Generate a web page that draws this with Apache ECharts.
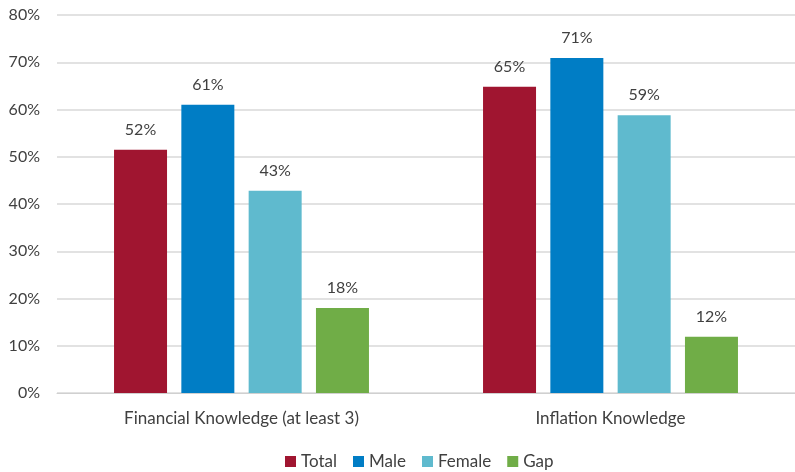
<!DOCTYPE html>
<html>
<head>
<meta charset="utf-8">
<script src="https://cdn.jsdelivr.net/npm/echarts@6/dist/echarts.min.js"></script>
<style>
  html, body { margin: 0; padding: 0; background: #fff; }
  #chart { width: 795px; height: 472px; }
</style>
</head>
<body>
<div id="chart"></div>
<script>
const categories = ['Financial Knowledge (at least 3)', 'Inflation Knowledge']
const seriesNames = ['Total', 'Male', 'Female', 'Gap']
const total = [51.5, 64.8]
const male = [61, 70.9]
const female = [42.8, 58.8]
const gap = [18, 11.9]
const colors = ['#A01530', '#007DC5', '#5FBACE', '#70AD47']

const values = [total, male, female, gap]
const font = 'Lato, sans-serif'

var myChart = echarts.init(document.getElementById('chart'))

var option = {
  animation: false,
  textStyle: { fontFamily: font },
  grid: { left: 57, right: -9, top: 15, bottom: 79 },
  legend: {
    bottom: -3,
    left: 280,
    icon: 'rect',
    itemWidth: 11,
    itemHeight: 11,
    itemGap: 16,
    textStyle: { fontSize: 17, color: '#404040', fontFamily: font },
    data: seriesNames
  },
  xAxis: {
    type: 'category',
    data: categories,
    axisLine: { lineStyle: { color: '#d0d0d0', width: 1 } },
    axisTick: { show: false },
    axisLabel: { fontSize: 17, color: '#404040', margin: 17 }
  },
  yAxis: {
    type: 'value',
    min: 0,
    max: 80,
    interval: 10,
    axisLine: { show: false },
    axisTick: { show: false },
    splitLine: { lineStyle: { color: '#d9d9d9', width: 1.5 } },
    axisLabel: {
      fontSize: 16,
      color: '#404040',
      margin: 17,
      formatter: '{value}%'
    }
  },
  series: seriesNames.map(function (name, i) {
    return {
      name: name,
      type: 'bar',
      data: values[i],
      barWidth: 53,
      barGap: '27%',
      itemStyle: { color: colors[i] },
      label: {
        show: true,
        position: 'top',
        distance: 12,
        fontSize: 16,
        color: '#404040',
        formatter: function (p) { return Math.round(p.value) + '%' }
      }
    }
  })
}

myChart.setOption(option)
</script>
</body>
</html>
